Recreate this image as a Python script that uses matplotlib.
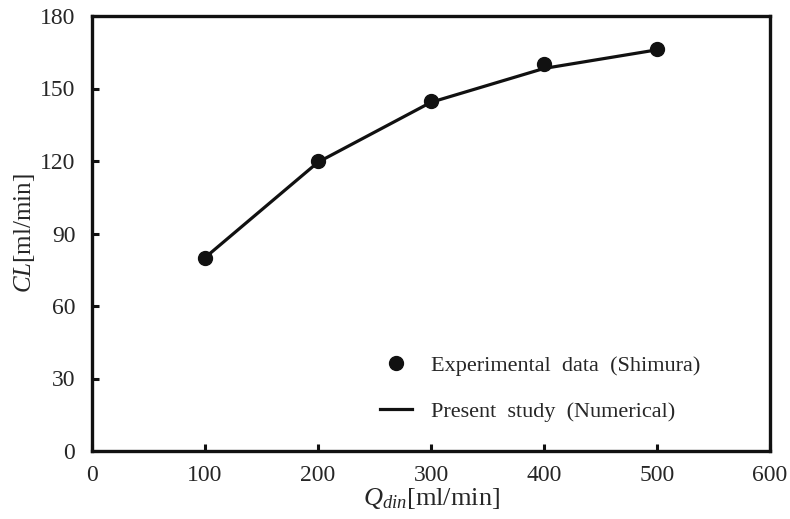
import matplotlib
matplotlib.use('Agg')
import matplotlib.pyplot as plt

plt.rcParams['font.family'] = 'Liberation Serif'
plt.rcParams['mathtext.fontset'] = 'custom'
plt.rcParams['mathtext.rm'] = 'Liberation Serif'
plt.rcParams['mathtext.it'] = 'Liberation Serif:italic'

# Caudal de dializado vs aclaramiento
q_din = [100, 200, 300, 400, 500]
cl_exp = [80, 120, 145, 160, 166.5]
cl_num = [80, 119.5, 144.3, 158.3, 166]

txt = '#262626'

fig = plt.figure(figsize=(7.9, 5.19), dpi=100)
ax = fig.add_axes([92/790, 1 - 451/519, (770-92)/790, (451-16)/519])

ax.plot(q_din, cl_exp, 'o', color='#111111', markersize=10, label='Experimental  data  (Shimura)', zorder=3)
ax.plot(q_din, cl_num, '-', color='#111111', lw=2.3, label='Present  study  (Numerical)')

ax.set_xlim(0, 600)
ax.set_ylim(0, 180)
ax.set_xticks(range(0, 601, 100))
ax.set_yticks(range(0, 181, 30))
ax.tick_params(direction='in', length=5, width=2.2, labelsize=17, colors='#111111', labelcolor=txt)
ax.tick_params(axis='y', pad=12)
ax.tick_params(axis='x', pad=10)
for s in ax.spines.values():
    s.set_linewidth(2.4)
    s.set_color('#111111')

ax.set_xlabel('$Q_{din}$[ml/min]', fontsize=19, color=txt, labelpad=0)
ax.set_ylabel('$CL$[ml/min]', fontsize=18, color=txt, labelpad=2)

h, l = ax.get_legend_handles_labels()
leg = ax.legend(h, l, loc='upper left', bbox_to_anchor=(0.425, 0.22), frameon=False,
                borderpad=0, borderaxespad=0, fontsize=16, handlelength=1.45,
                handletextpad=0.85, labelspacing=1.15)
for t in leg.get_texts():
    t.set_color(txt)

fig.savefig('out.png', dpi=100)
